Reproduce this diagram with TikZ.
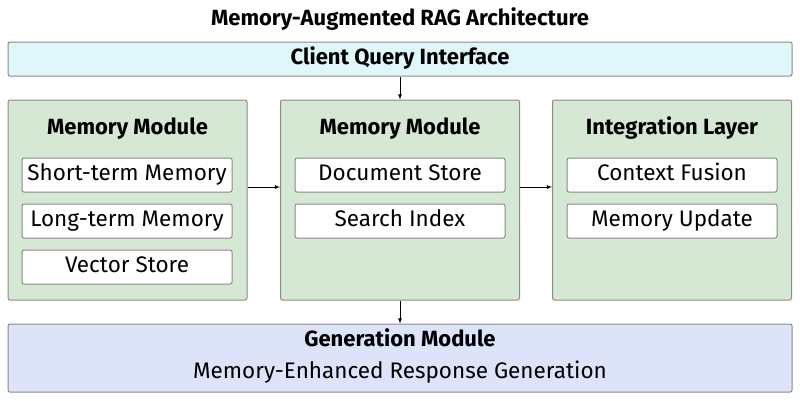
\documentclass[tikz,border=0pt]{standalone}
\usepackage{fontspec}
\setmainfont{Fira Sans}
\usetikzlibrary{positioning}
\definecolor{qfill}{HTML}{E0F7FA}
\definecolor{pfill}{HTML}{D5E8D4}
\definecolor{gfill}{HTML}{DDE3F8}
\definecolor{bline}{HTML}{8A8A8A}
\tikzset{
    panel/.style={draw=bline, line width=1pt, rounded corners=2pt, minimum width=239pt, minimum height=200pt, fill=pfill},
    item/.style={draw=bline, line width=1pt, fill=white, rounded corners=2pt, minimum width=210pt, minimum height=34pt, inner sep=0pt, text height=15pt, text depth=4pt, font=\fontsize{22.5}{26}\selectfont},
    head/.style={inner sep=0pt, text height=15pt, text depth=4pt, font=\bfseries\fontsize{22}{26}\selectfont},
    flow/.style={->, >=latex, thick}
}
\begin{document}
\begin{tikzpicture}[x=1pt, y=-1pt]
    \useasboundingbox (0,0) rectangle (800,400);

    % Title and query
    \node [head] (title) at (400,20) {Memory-Augmented RAG Architecture};
    \node [draw=bline, line width=1pt, fill=qfill, rounded corners=2pt, minimum width=784pt, minimum height=34pt, head] (query) at (400,59) {Client Query Interface};

    % Panels
    \foreach \n/\x/\t in {left/127.5/Memory Module, mid/400/Memory Module, right/672/Integration Layer} {
        \node [panel] (\n) at (\x,200) {};
        \node [head] (\n-head) at (\x,129) {\t};
    }

    % Items
    \foreach \l [count=\i] in {Short-term Memory, Long-term Memory, Vector Store}
        \node [item] (left-\i) at (127,129+46*\i) {\l};
    \foreach \l [count=\i] in {Document Store, Search Index}
        \node [item] (mid-\i) at (400,129+46*\i) {\l};
    \foreach \l [count=\i] in {Context Fusion, Memory Update}
        \node [item] (right-\i) at (672,129+46*\i) {\l};

    % Generation
    \node [draw=bline, line width=1pt, fill=gfill, rounded corners=2pt, minimum width=784pt, minimum height=68pt] (gen) at (400,358) {};
    \node [head] (gen-head) at (400,341) {Generation Module};
    \node [inner sep=0pt, text height=15pt, text depth=4pt, font=\fontsize{22.5}{26}\selectfont] (gen-text) at (400,373) {Memory-Enhanced Response Generation};

    % Connecting
    \draw [flow] (query) -- (mid);
    \draw [flow] (left.east |- 0,187) -- (mid.west |- 0,187);
    \draw [flow] (mid.east |- 0,187) -- (right.west |- 0,187);
    \draw [flow] (mid) -- (gen);
\end{tikzpicture}
\end{document}
